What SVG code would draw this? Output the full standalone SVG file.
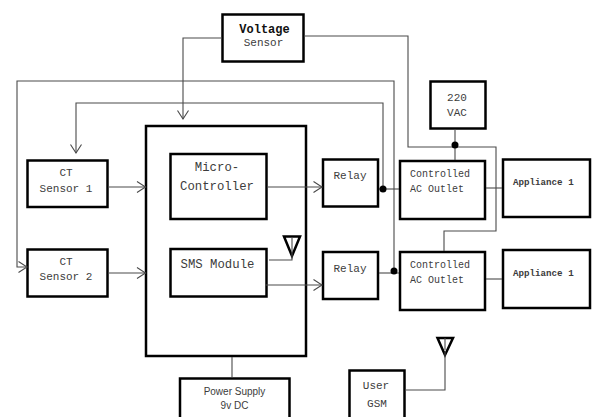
<svg xmlns="http://www.w3.org/2000/svg" width="592" height="417" viewBox="0 0 592 417">
<style>
.b{fill:#fff;stroke:#000;stroke-width:2.5}
.c{fill:none;stroke:#4a4a4a;stroke-width:1.1}
.a{fill:none;stroke:#000;stroke-width:2.5}
text{font-family:"Liberation Mono",monospace;fill:#3c3c3c;text-anchor:middle;font-size:11px}
.m{font-size:12.3px}
.o{font-size:10px;text-anchor:start}
.p{font-size:9.2px;font-weight:bold;text-anchor:start}
.s{font-family:"Liberation Sans",sans-serif;font-size:10px}
</style>
<defs>
<marker id="h" markerUnits="userSpaceOnUse" markerWidth="12" markerHeight="14" refX="9.5" refY="6" orient="auto"><path d="M1 0.5L9.5 6L1 11.5" fill="none" stroke="#4a4a4a" stroke-width="1.1"/></marker>
</defs>
<rect width="592" height="417" fill="#fff"/>
<g id="voltage-sensor"><rect class="b" x="222.500" y="14.500" width="81" height="47"/><text x="264.500" y="33" style="font-size:12px;font-weight:bold;fill:#111">Voltage</text><text x="263.500" y="46">Sensor</text></g>
<g id="vac"><rect class="b" x="430.500" y="81.500" width="55" height="47"/><text x="457" y="101">220</text><text x="457" y="116">VAC</text></g>
<g id="ct1"><rect class="b" x="27.500" y="160.500" width="80" height="46.500"/><text x="66" y="176">CT</text><text x="66" y="192">Sensor 1</text></g>
<g id="ct2"><rect class="b" x="27.500" y="249.500" width="80" height="47"/><text x="66" y="265">CT</text><text x="66" y="280">Sensor 2</text></g>
<g id="main"><rect class="b" x="146" y="126" width="160" height="230"/></g>
<g id="micro"><rect class="b" x="170.500" y="154" width="96" height="65"/><text class="m" x="217" y="171">Micro-</text><text class="m" x="217" y="190">Controller</text></g>
<g id="sms"><rect class="b" x="170.500" y="249" width="96" height="47.500"/><text class="m" x="217.500" y="268">SMS Module</text></g>
<g id="relay1"><rect class="b" x="323" y="159.500" width="55" height="47"/><text x="350" y="179">Relay</text></g>
<g id="relay2"><rect class="b" x="323" y="252" width="55" height="47"/><text x="350" y="272">Relay</text></g>
<g id="outlet1"><rect class="b" x="400" y="161" width="85" height="58"/><text class="o" x="410" y="177">Controlled</text><text class="o" x="410" y="192">AC Outlet</text></g>
<g id="outlet2"><rect class="b" x="400" y="252" width="85" height="58"/><text class="o" x="410" y="268">Controlled</text><text class="o" x="410" y="283">AC Outlet</text></g>
<g id="appliance1"><rect class="b" x="503" y="159.500" width="87" height="57.500"/><text class="p" x="513" y="185">Appliance 1</text></g>
<g id="appliance2"><rect class="b" x="503" y="250" width="87" height="58"/><text class="p" x="513" y="276">Appliance 1</text></g>
<g id="power"><rect class="b" x="180" y="378.500" width="109.500" height="45"/><text class="s" x="234.500" y="395">Power Supply</text><text class="s" x="234.500" y="409">9v DC</text></g>
<g id="user-gsm"><rect class="b" x="349.500" y="370.500" width="55" height="52"/><text x="376" y="389">User</text><text x="377" y="407">GSM</text></g>
<g id="antenna1"><path class="a" d="M284 236.500H300L292 256Z"/><path class="c" d="M292 237V250"/></g>
<g id="antenna2"><path class="a" d="M437.500 338H453L445 355Z"/><path class="c" d="M445 338V350"/></g>
<g id="connectors">
<path class="c" d="M222 38H183V119" marker-end="url(#h)"/>
<path class="c" d="M394 271V81H17V267H27" marker-end="url(#h)"/>
<path class="c" d="M383 189V103H76V153" marker-end="url(#h)"/>
<path class="c" d="M304 36H408V147H496V231H444V251"/>
<path class="c" d="M455 129V160"/>
<path class="c" d="M108 187H145.500" marker-end="url(#h)"/>
<path class="c" d="M108 273H145.500" marker-end="url(#h)"/>
<path class="c" d="M267 187H322" marker-end="url(#h)"/>
<path class="c" d="M265 285H322" marker-end="url(#h)"/>
<path class="c" d="M379 189H399"/>
<path class="c" d="M379 273H399"/>
<path class="c" d="M486 188H502"/>
<path class="c" d="M486 279H502"/>
<path class="c" d="M269 260H292V250"/>
<path class="c" d="M405 390H445V352"/>
<path class="c" d="M232 357V377"/>
<circle cx="383" cy="189" r="3.500" fill="#000"/>
<circle cx="394" cy="271" r="3.500" fill="#000"/>
<circle cx="455" cy="145" r="3.500" fill="#000"/>
</g>
</svg>
